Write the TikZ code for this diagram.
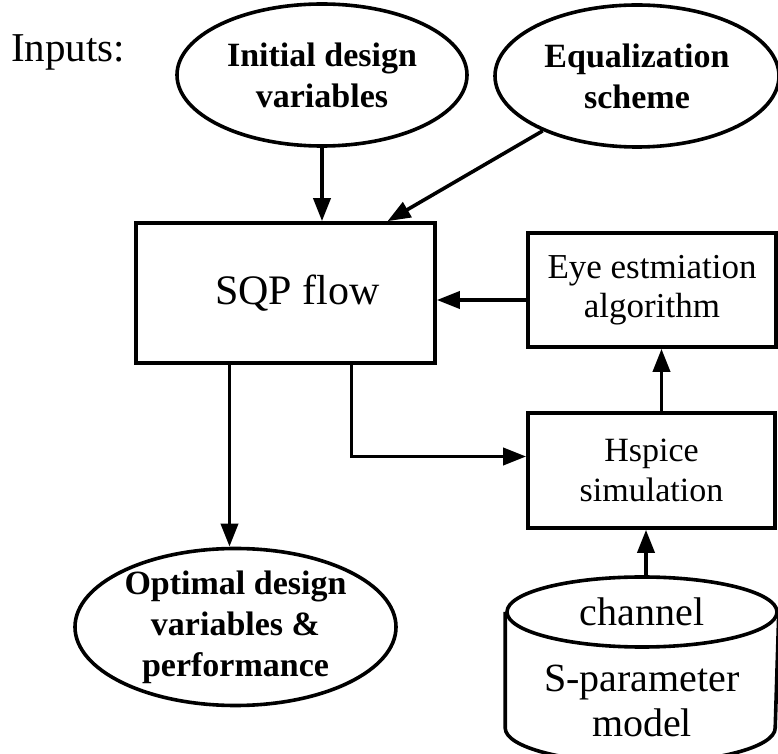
\documentclass[tikz,border=0pt]{standalone}
\usepackage{fontspec}
\setmainfont{Liberation Serif}
\usetikzlibrary{arrows.meta, shapes.geometric, calc}

\begin{document}
\begin{tikzpicture}[x=0.5pt, y=-0.5pt,
  line width=1.8pt,
  term/.style={ellipse, draw, inner sep=-6pt, align=center,
               font=\fontsize{17}{20.5}\selectfont\bfseries},
  blk/.style={rectangle, draw, align=center, font=\fontsize{17.5}{19.5}\selectfont},
  arr/.style={-{Triangle[length=11.5pt, width=8.5pt]}}
]
\useasboundingbox (0,0) rectangle (778,754);

% inputs
\node (inp) at (68,52) {\fontsize{20.5}{24}\selectfont Inputs:};
\node[term, minimum width=145pt, minimum height=71pt] (init) at (322,75)
  {Initial design\\variables};
\node[term, minimum width=142pt, minimum height=71pt] (equal) at (637,76)
  {Equalization\\scheme};

% flow blocks
\node[blk, minimum width=149.5pt, minimum height=70pt,
      font=\fontsize{21}{24}\selectfont] (sqp) at (285.5,293) {\hspace*{12pt}SQP flow};
\node[blk, minimum width=124pt, minimum height=57pt] (eye) at (652,290)
  {Eye estmiation\\algorithm};
\node[blk, minimum width=123.5pt, minimum height=57.5pt,
      font=\fontsize{17}{20}\selectfont] (hsp) at (651.5,470.5) {Hspice\\simulation};

% output
\node[term, minimum width=160.5pt, minimum height=78.5pt] (opt) at (235.5,627)
  {Optimal design\\variables \&\\performance};

% channel model
\node[ellipse, draw, minimum width=135pt, minimum height=35pt, inner sep=0pt,
      font=\fontsize{20}{22.5}\selectfont] (chn) at (642,612) {channel};
\draw (chn.west) -- ++(0,116)
  arc[start angle=180, end angle=360, x radius=67.5pt, y radius=17.5pt]
  -- (chn.east);
\node[align=center, font=\fontsize{20}{22.5}\selectfont] (spm) at (642,701)
  {S-parameter\\model};

% connectors
\draw[arr] (init.south) -- (init.south |- sqp.north);
\draw[arr] (equal) -- ([xshift=51pt]sqp.north);
\draw[arr] ([yshift=-5pt]eye.west) -- ([yshift=-5pt]eye.west -| sqp.east);
\draw[arr] ([xshift=5pt]hsp.north) -- ([xshift=5pt]hsp.north |- eye.south);
\draw[arr] ([xshift=33pt]sqp.south) |- ([yshift=7pt]hsp.west);
\draw[arr] ([xshift=-28pt]sqp.south) -- ([xshift=-28pt]sqp.south |- opt.north);
\draw[arr] ([xshift=2pt]chn.north) -- ([xshift=2pt]chn.north |- hsp.south);
\end{tikzpicture}
\end{document}
